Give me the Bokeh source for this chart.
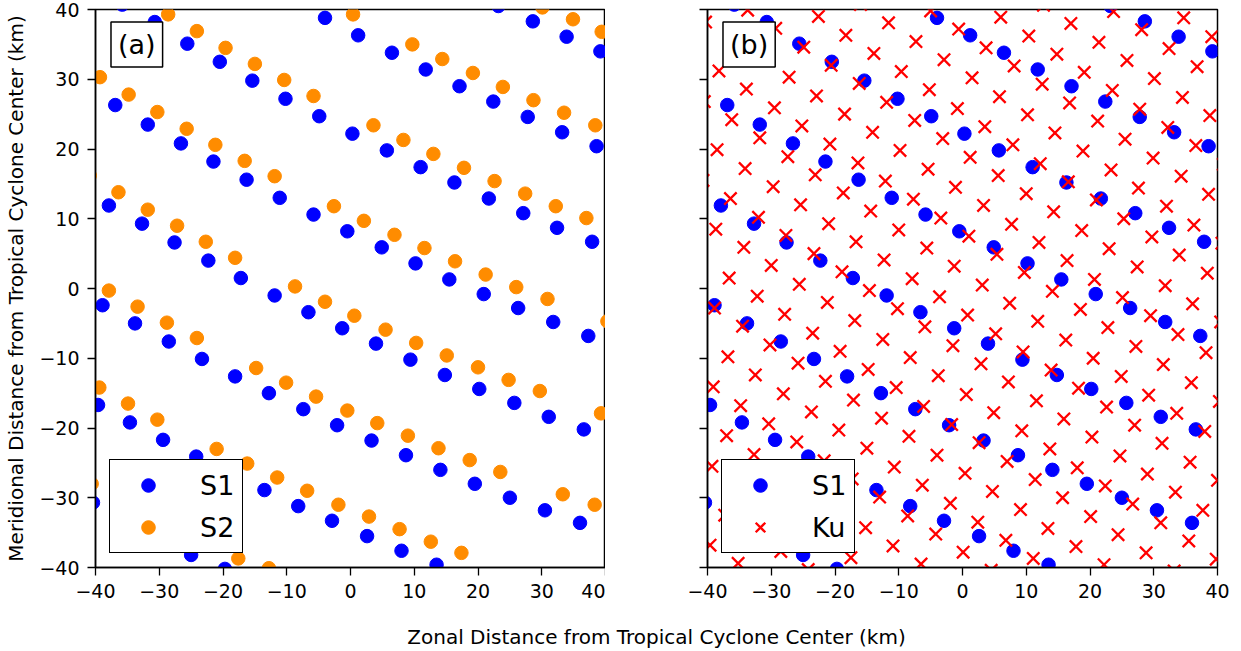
from bokeh.plotting import figure
from bokeh.models import Range1d, FixedTicker, Legend, LegendItem, Label
from bokeh.layouts import row, column
from bokeh.embed import file_html
from bokeh.resources import INLINE

FONT = "DejaVu Sans"

ticks = [-40, -30, -20, -10, 0, 10, 20, 30, 40]
tick_labels = ["\u221240", "\u221230", "\u221220", "\u221210", "0", "10", "20", "30", "40"]

# S1 footprints (km)
s1_x = [23.2, 28.6, 33.9, 39.2,
        -4.0, 1.2, 6.5, 11.8, 17.1, 22.4, 27.8, 33.2, 38.6,
        -35.8, -30.7, -25.6, -20.5, -15.4, -10.2, -4.9, 0.3, 5.7, 11.0, 16.3, 21.7, 27.1, 32.4, 37.9,
        -36.9, -31.8, -26.6, -21.5, -16.3, -11.1, -5.8, -0.5, 4.9, 10.2, 15.5, 20.9, 26.3, 31.8, 37.3,
        -37.9, -32.7, -27.6, -22.3, -17.2, -11.9, -6.6, -1.3, 4.0, 9.4, 14.8, 20.2, 25.7, 31.1, 36.6,
        -38.9, -33.8, -28.5, -23.3, -18.1, -12.8, -7.4, -2.1, 3.3, 8.7, 14.1, 19.5, 25.0, 30.5, 36.0,
        -39.6, -34.6, -29.4, -24.2, -13.5, -8.2, -2.9, 2.6, 8.0, 13.5,
        -40.4, -25.0, -19.7]
s1_y = [40.5, 38.3, 36.1, 34.0,
        38.8, 36.3, 33.8, 31.4, 29.0, 26.8, 24.6, 22.4, 20.4,
        40.7, 38.2, 35.1, 32.5, 29.8, 27.2, 24.7, 22.2, 19.8, 17.4, 15.2, 12.9, 10.8, 8.7, 6.7,
        26.3, 23.5, 20.8, 18.2, 15.6, 13.0, 10.6, 8.2, 5.9, 3.6, 1.3, -0.8, -2.8, -4.8, -6.8,
        11.9, 9.3, 6.6, 4.0, 1.5, -1.0, -3.4, -5.7, -7.9, -10.2, -12.4, -14.4, -16.4, -18.4, -20.2,
        -2.4, -5.0, -7.6, -10.1, -12.6, -15.0, -17.3, -19.6, -21.8, -23.9, -26.0, -28.0, -30.0, -31.8, -33.6,
        -16.7, -19.2, -21.7, -24.1, -28.9, -31.2, -33.3, -35.5, -37.6, -39.6,
        -30.7, -38.2, -40.2]

# S2 footprints (km)
s2_x = [30.1, 34.9, 39.4,
        0.4, 9.7, 14.4, 19.2, 23.9, 28.7, 33.5, 38.4,
        -28.6, -24.1, -19.6, -15.0, -10.4, -5.8, 3.6, 8.3, 13.0, 17.8, 22.6, 27.4, 32.2, 37.0,
        -39.3, -34.8, -30.3, -25.7, -21.2, -16.6, -11.9, -2.6, 2.1, 6.9, 11.6, 16.4, 21.2, 26.0, 30.9, 40.3,
        -40.9, -36.4, -31.8, -27.2, -22.7, -18.1, -8.7, -4.0, 0.6, 5.5, 10.3, 15.1, 20.0, 24.8, 29.7, 39.3,
        -37.9, -33.4, -28.8, -24.1, -14.8, -10.1, -5.4, -0.5, 4.2, 9.0, 13.8, 18.7, 23.5, 33.3, 38.3,
        -39.4, -34.9, -30.3, -21.0, -16.2, -11.5, -6.8, -1.9, 2.9, 7.7, 12.6, 17.4,
        -40.6, -17.6, -12.8]
s2_y = [40.3, 38.6, 36.8,
        39.3, 35.0, 32.9, 30.9, 28.9, 27.0, 25.2, 23.4,
        39.3, 36.9, 34.5, 32.2, 29.9, 27.6, 23.4, 21.3, 19.3, 17.3, 15.4, 13.6, 11.8, 10.1,
        30.3, 27.8, 25.3, 22.9, 20.6, 18.3, 16.1, 11.8, 9.7, 7.7, 5.8, 3.9, 2.0, 0.2, -1.5, -4.7,
        16.2, 13.8, 11.3, 9.0, 6.7, 4.4, 0.3, -1.9, -3.9, -5.9, -7.8, -9.6, -11.3, -13.1, -14.7, -17.9,
        -0.3, -2.6, -4.9, -7.1, -11.4, -13.5, -15.5, -17.5, -19.3, -21.1, -22.9, -24.6, -26.3, -29.5, -31.0,
        -14.2, -16.5, -18.8, -23.0, -25.1, -27.1, -29.0, -31.0, -32.7, -34.5, -36.3, -37.9,
        -28.0, -38.7, -40.1]

# Ku footprints (km)
ku_x = [34.7, 39.1,
        23.7, 28.1, 32.4, 36.8,
        12.7, 17.0, 21.4, 25.8, 30.1, 34.5, 38.8,
        6.0, 10.4, 14.8, 19.1, 23.5, 27.8, 32.2, 36.6, 40.9,
        -5.0, -0.6, 3.7, 8.1, 12.5, 16.8, 21.2, 25.5, 29.9, 34.3, 38.6,
        -16.0, -11.6, -7.3, -2.9, 1.5, 5.8, 10.2, 14.5, 18.9, 23.3, 27.6, 32.0, 36.3, 40.7,
        -22.6, -18.3, -13.9, -9.6, -5.2, -0.8, 3.5, 7.9, 12.2, 16.6, 21.0, 25.3, 29.7, 34.0, 38.4,
        -33.7, -29.3, -24.9, -20.6, -16.2, -11.9, -7.5, -3.1, 1.2, 5.6, 10.0, 14.3, 18.7, 23.0, 27.4, 31.8, 36.1, 40.5,
        -40.3, -35.9, -31.6, -27.2, -22.9, -18.5, -14.1, -9.8, -5.4, -1.1, 3.3, 7.7, 12.0, 16.4, 20.7, 25.1, 29.5, 33.8, 38.2,
        -38.2, -33.9, -29.5, -25.2, -20.8, -16.4, -12.1, -7.7, -3.4, 1.0, 5.4, 9.7, 14.1, 18.5, 22.8, 27.2, 31.5, 35.9, 40.3,
        -40.5, -36.2, -31.8, -27.4, -23.1, -18.7, -14.4, -10.0, -5.6, -1.3, 3.1, 7.4, 11.8, 16.2, 20.5, 24.9, 29.2, 33.6, 38.0,
        -38.5, -34.1, -29.7, -25.4, -21.0, -16.7, -12.3, -7.9, -3.6, 0.8, 5.2, 9.5, 13.9, 18.2, 22.6, 27.0, 31.3, 35.7, 40.0,
        -40.7, -36.4, -32.0, -27.7, -23.3, -18.9, -14.6, -10.2, -5.9, -1.5, 2.9, 7.2, 11.6, 15.9, 20.3, 24.7, 29.0, 33.4, 37.7,
        -38.7, -34.3, -30.0, -25.6, -21.2, -16.9, -12.5, -8.2, -3.8, 0.6, 4.9, 9.3, 13.7, 18.0, 22.4, 26.7, 31.1, 35.5, 39.8,
        -41.0, -36.6, -32.2, -27.9, -23.5, -19.2, -14.8, -10.4, -6.1, -1.7, 2.6, 7.0, 11.4, 15.7, 20.1, 24.4, 28.8, 33.2,
        -38.9, -34.5, -30.2, -25.8, -21.5, -17.1, -12.7, -8.4, -4.0, 0.4, 4.7, 9.1, 13.4, 17.8, 22.2,
        -36.8, -32.5, -28.1, -23.7, -19.4, -15.0, -10.7, -6.3, -1.9, 2.4, 6.8, 11.1,
        -39.1, -34.8, -30.4, -26.0, -21.7, -17.3, -13.0, -8.6, -4.2, 0.1, 4.5,
        -37.0, -32.7, -28.3, -24.0, -19.6, -15.2, -10.9, -6.5,
        -39.3, -35.0, -30.6, -26.3, -21.9, -17.5,
        -37.3, -32.9, -28.5, -24.2,
        -39.6, -35.2]
ku_y = [38.8, 36.1,
        39.7, 37.1, 34.4, 31.8,
        40.6, 38.0, 35.3, 32.7, 30.1, 27.4, 24.8,
        38.9, 36.2, 33.6, 31.0, 28.4, 25.7, 23.1, 20.5, 17.8,
        39.8, 37.2, 34.5, 31.9, 29.3, 26.6, 24.0, 21.4, 18.7, 16.1, 13.5,
        40.7, 38.1, 35.4, 32.8, 30.2, 27.5, 24.9, 22.3, 19.7, 17.0, 14.4, 11.8, 9.1, 6.5,
        39.0, 36.3, 33.7, 31.1, 28.5, 25.8, 23.2, 20.6, 17.9, 15.3, 12.7, 10.0, 7.4, 4.8, 2.2,
        39.9, 37.3, 34.6, 32.0, 29.4, 26.7, 24.1, 21.5, 18.8, 16.2, 13.6, 11.0, 8.3, 5.7, 3.1, 0.4, -2.2, -4.8,
        38.2, 35.5, 32.9, 30.3, 27.6, 25.0, 22.4, 19.8, 17.1, 14.5, 11.9, 9.2, 6.6, 4.0, 1.3, -1.3, -3.9, -6.6, -9.2,
        31.2, 28.6, 25.9, 23.3, 20.7, 18.0, 15.4, 12.8, 10.1, 7.5, 4.9, 2.3, -0.4, -3.0, -5.6, -8.3, -10.9, -13.5, -16.2,
        26.8, 24.2, 21.6, 18.9, 16.3, 13.7, 11.1, 8.4, 5.8, 3.2, 0.5, -2.1, -4.7, -7.4, -10.0, -12.6, -15.3, -17.9, -20.5,
        19.9, 17.2, 14.6, 12.0, 9.3, 6.7, 4.1, 1.4, -1.2, -3.8, -6.5, -9.1, -11.7, -14.3, -17.0, -19.6, -22.2, -24.9, -27.5,
        15.5, 12.9, 10.2, 7.6, 5.0, 2.4, -0.3, -2.9, -5.5, -8.2, -10.8, -13.4, -16.1, -18.7, -21.3, -24.0, -26.6, -29.2, -31.8,
        8.5, 5.9, 3.3, 0.6, -2.0, -4.6, -7.3, -9.9, -12.5, -15.2, -17.8, -20.4, -23.0, -25.7, -28.3, -30.9, -33.6, -36.2, -38.8,
        4.2, 1.5, -1.1, -3.7, -6.4, -9.0, -11.6, -14.2, -16.9, -19.5, -22.1, -24.8, -27.4, -30.0, -32.7, -35.3, -37.9, -40.5,
        -2.8, -5.4, -8.1, -10.7, -13.3, -16.0, -18.6, -21.2, -23.9, -26.5, -29.1, -31.7, -34.4, -37.0, -39.6,
        -9.8, -12.4, -15.1, -17.7, -20.3, -22.9, -25.6, -28.2, -30.8, -33.5, -36.1, -38.7,
        -14.1, -16.8, -19.4, -22.0, -24.7, -27.3, -29.9, -32.6, -35.2, -37.8, -40.4,
        -21.1, -23.8, -26.4, -29.0, -31.6, -34.3, -36.9, -39.5,
        -25.5, -28.1, -30.7, -33.4, -36.0, -38.6,
        -32.5, -35.1, -37.7, -40.3,
        -36.8, -39.4]

x_title = "Zonal Distance from Tropical Cyclone Center (km)"
y_title = "Meridional Distance from Tropical Cyclone Center (km)"


def make_panel(tag, left, right, show_labels):
    p = figure(frame_width=510, frame_height=558,
               x_range=Range1d(-40, 40), y_range=Range1d(-40, 40),
               output_backend="svg", toolbar_location=None, title=None,
               min_border_left=left, min_border_right=right,
               min_border_top=9, min_border_bottom=45)
    p.grid.visible = False
    p.outline_line_color = "black"
    p.outline_line_alpha = 1.0
    p.outline_line_width = 1.5
    for ax in (p.xaxis[0], p.yaxis[0]):
        ax.ticker = FixedTicker(ticks=ticks)
        ax.major_label_overrides = dict(zip(ticks, tick_labels))
        ax.major_tick_out = 8
        ax.major_tick_in = 0
        ax.major_tick_line_width = 1.3
        ax.major_tick_line_color = "black"
        ax.minor_tick_line_color = None
        ax.axis_line_width = 1.5
        ax.axis_line_color = "black"
        ax.major_label_text_font = FONT
        ax.major_label_text_font_size = "19px"
        ax.major_label_text_color = "black"
        ax.major_label_standoff = 8
    if not show_labels:
        p.yaxis.major_label_text_color = None
    else:
        p.yaxis.axis_label = y_title
        p.yaxis.axis_label_text_font = FONT
        p.yaxis.axis_label_text_font_size = "20px"
        p.yaxis.axis_label_text_font_style = "normal"
        p.yaxis.axis_label_text_color = "black"
        p.yaxis.axis_label_standoff = 8
    p.add_layout(Label(x=-37.57, y=38.2, text=tag, anchor="top_left",
                       text_font=FONT, text_font_size="27px", text_color="black", padding=7,
                       border_line_color="black", border_line_alpha=1.0, border_line_width=1.5,
                       background_fill_color="white", background_fill_alpha=1.0))
    return p


p1 = make_panel("(a)", 95, 0, True)
r1 = p1.scatter(s1_x, s1_y, marker="circle", size=13.5, color="#0000ff")
r2 = p1.scatter(s2_x, s2_y, marker="circle", size=13.5, color="#ff8c00")

p2 = make_panel("(b)", 102, 24, False)
r3 = p2.scatter(s1_x, s1_y, marker="circle", size=13.5, color="#0000ff")
r4 = p2.scatter(ku_x, ku_y, marker="x", size=17.5, line_color="#ff0000", line_width=2.3)

for p, items in ((p1, [("S1", r1), ("S2", r2)]), (p2, [("S1", r3), ("Ku", r4)])):
    lg = Legend(items=[LegendItem(label=l, renderers=[r]) for l, r in items],
                location=(14, 14), glyph_width=60, glyph_height=34,
                label_standoff=22, padding=8, spacing=8, margin=0,
                label_text_font=FONT, label_text_font_size="27px", label_text_color="black",
                border_line_color="black", border_line_alpha=1.0, border_line_width=1.5,
                background_fill_color="white", background_fill_alpha=1.0)
    p.add_layout(lg)

p3 = figure(frame_width=1241, frame_height=39, x_range=Range1d(0, 1241), y_range=Range1d(0, 39),
            output_backend="svg", toolbar_location=None, title=None,
            x_axis_type=None, y_axis_type=None, min_border=0)
p3.grid.visible = False
p3.outline_line_color = None
p3.add_layout(Label(x=656, y=15, text=x_title, text_align="center", text_baseline="middle",
                    text_font=FONT, text_font_size="20px", text_color="black"))

layout = column(row(p1, p2), p3)
open("out.html", "w").write(file_html(layout, INLINE))
